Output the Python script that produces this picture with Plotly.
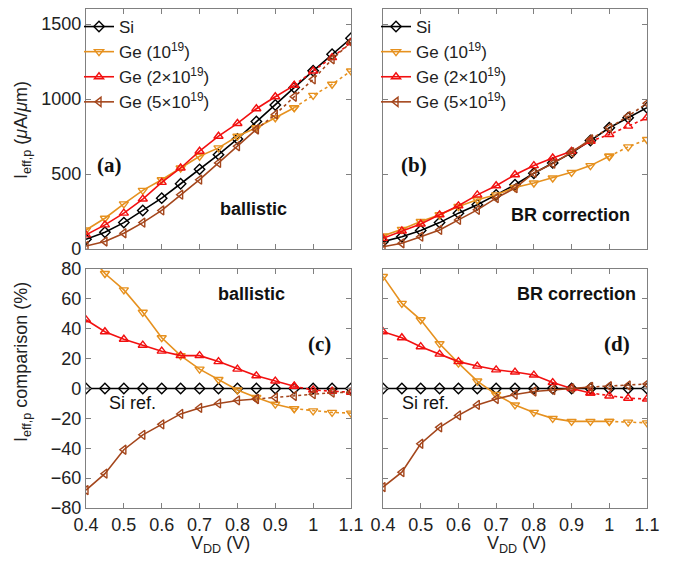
import plotly.graph_objects as go

# ---------------- data ----------------
vdd = [0.4, 0.45, 0.5, 0.55, 0.6, 0.65, 0.7, 0.75, 0.8, 0.85, 0.9, 0.95, 1.0, 1.05, 1.1]

# (a) ballistic current (uA/um)
a_si = [65, 112, 176, 257, 339, 435, 531, 629, 734, 850, 960, 1076, 1188, 1298, 1405]
a_ge1 = [127, 205, 301, 391, 462, 540, 618, 674, 752, 808, 875, 942, 1024, 1098, 1187]
a_ge2 = [94, 161, 239, 333, 444, 540, 652, 752, 837, 935, 1015, 1091, 1187, 1276, 1377]
a_ge5 = [20, 50, 105, 176, 257, 362, 462, 574, 685, 797, 897, 1015, 1131, 1265, 1377]

# (b) BR correction current (uA/um)
b_si = [49, 82, 123, 176, 239, 295, 361, 428, 505, 574, 641, 723, 808, 875, 942]
b_ge1 = [87, 131, 183, 228, 283, 328, 361, 410, 440, 473, 511, 556, 618, 681, 730]
b_ge2 = [71, 120, 167, 228, 288, 361, 422, 495, 556, 607, 651, 718, 763, 819, 875]
b_ge5 = [15, 38, 82, 127, 194, 261, 339, 406, 507, 569, 645, 730, 808, 886, 971]

# (c) ballistic comparison (%)
c_si = [0] * 15
c_ge1 = [92, 77, 66, 51, 34, 22, 13, 6, -1, -6, -10.5, -13.5, -15, -16, -16.5]
c_ge2 = [46, 38, 33, 29, 25, 22, 22, 18, 13, 8.5, 5, 1.5, -1, -1.8, -2.5]
c_ge5 = [-68, -57, -41, -31, -24, -17, -13, -10, -8, -7, -6, -5, -3.8, -2.8, -2.5]

# (d) BR correction comparison (%)
d_si = [0] * 15
d_ge1 = [75, 57, 46, 30, 17, 5, -4, -11, -16, -20, -22, -22, -22, -22.5, -23]
d_ge2 = [38, 34, 28, 23, 18, 15, 12.5, 11, 9, 4, 0, -3, -5, -6.5, -7]
d_ge5 = [-66, -56, -37, -26, -18, -11, -7, -4, -2, -1, 0, 1, 1.5, 2, 3]

names = ["Si", "Ge (10<sup>19</sup>)", "Ge (2×10<sup>19</sup>)", "Ge (5×10<sup>19</sup>)"]
colors = ["#000000", "#E6911F", "#F21010", "#A4461C"]
symbols = ["diamond-open", "triangle-down-open", "triangle-up-open", "triangle-left-open"]

# index where the dotted part begins (per panel, per series)
split_ac = [14, 11, 11, 9]
split_bd = [14, 12, 11, 11]

panels = [
    ("x", "y", [a_si, a_ge1, a_ge2, a_ge5], split_ac, "legend"),
    ("x2", "y2", [b_si, b_ge1, b_ge2, b_ge5], split_bd, "legend2"),
    ("x3", "y3", [c_si, c_ge1, c_ge2, c_ge5], split_ac, None),
    ("x4", "y4", [d_si, d_ge1, d_ge2, d_ge5], split_bd, None),
]

fig = go.Figure()
for xa, ya, series, splits, leg in panels:
    for i, ys in enumerate(series):
        k = splits[i]
        common = dict(xaxis=xa, yaxis=ya, mode="lines+markers",
                      marker=dict(symbol=symbols[i], size=8, color=colors[i],
                                  line=dict(width=1.4, color=colors[i])))
        fig.add_trace(go.Scatter(x=vdd[:k + 1], y=ys[:k + 1], name=names[i],
                                 line=dict(color=colors[i], width=1.6),
                                 showlegend=leg is not None,
                                 legend=leg if leg else "legend", **common))
        if k < 14:
            fig.add_trace(go.Scatter(x=vdd[k:], y=ys[k:], name=names[i],
                                     line=dict(color=colors[i], width=1.6, dash="dot"),
                                     showlegend=False, **common))

# page has an 8px body margin: figure is placed at (8, 8) in the window
OFF = 8
W, H = 674 - 2 * OFF, 565 - 2 * OFF
def px(x):
    return (x - OFF) / W
def py(y):
    return 1 - (y - OFF) / H

axis_style = dict(showline=True, linecolor="#808080", linewidth=1.3, mirror="ticks",
                  ticks="inside", ticklen=5, tickcolor="#808080", showgrid=False,
                  zeroline=False, automargin=False,
                  tickfont=dict(family="Liberation Sans, Arial", size=18, color="#222"))

xd_left = [px(86), px(351)]
xd_right = [px(383), px(647)]
yd_top = [py(249), py(9)]
yd_bot = [py(508), py(269)]

xt = dict(range=[0.4, 1.1], tickvals=[0.4, 0.5, 0.6, 0.7, 0.8, 0.9, 1.0, 1.1],
          ticktext=["0.4", "0.5", "0.6", "0.7", "0.8", "0.9", "1", "1.1"])

legfont = dict(family="Liberation Sans, Arial", size=17, color="#222")
fig.update_layout(
    width=W, height=H, margin=dict(l=0, r=0, t=0, b=0, autoexpand=False),
    paper_bgcolor="white", plot_bgcolor="white",
    font=dict(family="Liberation Sans, Arial", color="#222"),
    xaxis=dict(domain=xd_left, anchor="y", showticklabels=False, **xt, **axis_style),
    yaxis=dict(domain=yd_top, anchor="x", range=[0, 1600], tickvals=[0, 500, 1000, 1500], **axis_style),
    xaxis2=dict(domain=xd_right, anchor="y2", showticklabels=False, **xt, **axis_style),
    yaxis2=dict(domain=yd_top, anchor="x2", range=[0, 1600], tickvals=[0, 500, 1000, 1500],
                showticklabels=False, **axis_style),
    xaxis3=dict(domain=xd_left, anchor="y3", **xt, **axis_style),
    yaxis3=dict(domain=yd_bot, anchor="x3", range=[-80, 80], tickvals=list(range(-80, 81, 20)), **axis_style),
    xaxis4=dict(domain=xd_right, anchor="y4", **xt, **axis_style),
    yaxis4=dict(domain=yd_bot, anchor="x4", range=[-80, 80], tickvals=list(range(-80, 81, 20)),
                showticklabels=False, **axis_style),
    legend=dict(x=px(79), y=py(9), xanchor="left", yanchor="top", bgcolor="rgba(0,0,0,0)",
                font=legfont, itemwidth=30, tracegroupgap=0),
    legend2=dict(x=px(376), y=py(9), xanchor="left", yanchor="top", bgcolor="rgba(0,0,0,0)",
                 font=legfont, itemwidth=30, tracegroupgap=0),
    showlegend=True,
)

serif_bold = dict(family="Liberation Serif, Times New Roman", size=21, color="#111")
sans_bold = dict(family="Liberation Sans, Arial", size=18, color="#111")
sans = dict(family="Liberation Sans, Arial", size=18, color="#111")
title_font = dict(family="Liberation Sans, Arial", size=18, color="#222")

ann = [
    dict(xref="x", yref="y", x=0.463, y=562, text="<b>(a)</b>", font=serif_bold),
    dict(xref="x", yref="y", x=0.842, y=268, text="<b>ballistic</b>", font=sans_bold),
    dict(xref="x2", yref="y2", x=0.481, y=562, text="<b>(b)</b>", font=serif_bold),
    dict(xref="x2", yref="y2", x=0.896, y=228, text="<b>BR correction</b>", font=sans_bold),
    dict(xref="x3", yref="y3", x=0.836, y=63, text="<b>ballistic</b>", font=sans_bold),
    dict(xref="x3", yref="y3", x=1.016, y=29.5, text="<b>(c)</b>", font=serif_bold),
    dict(xref="x3", yref="y3", x=0.522, y=-9.4, text="Si ref.", font=sans),
    dict(xref="x4", yref="y4", x=0.914, y=63, text="<b>BR correction</b>", font=sans_bold),
    dict(xref="x4", yref="y4", x=1.02, y=29.5, text="<b>(d)</b>", font=serif_bold),
    dict(xref="x4", yref="y4", x=0.514, y=-10, text="Si ref.", font=sans),
    dict(xref="paper", yref="paper", x=px(22), y=py(130), textangle=-90,
         text="I<sub>eff,p</sub> (<i>μ</i>A/<i>μ</i>m)", font=title_font),
    dict(xref="paper", yref="paper", x=px(22), y=py(362), textangle=-90,
         text="I<sub>eff,p</sub> comparison (%)", font=title_font),
    dict(xref="paper", yref="paper", x=px(221), y=py(544),
         text="V<sub>DD</sub> (V)", font=title_font),
    dict(xref="paper", yref="paper", x=px(516), y=py(544),
         text="V<sub>DD</sub> (V)", font=title_font),
]
for a in ann:
    a.update(showarrow=False, xanchor="center", yanchor="middle")
fig.update_layout(annotations=ann)

fig.write_html("out.html")
